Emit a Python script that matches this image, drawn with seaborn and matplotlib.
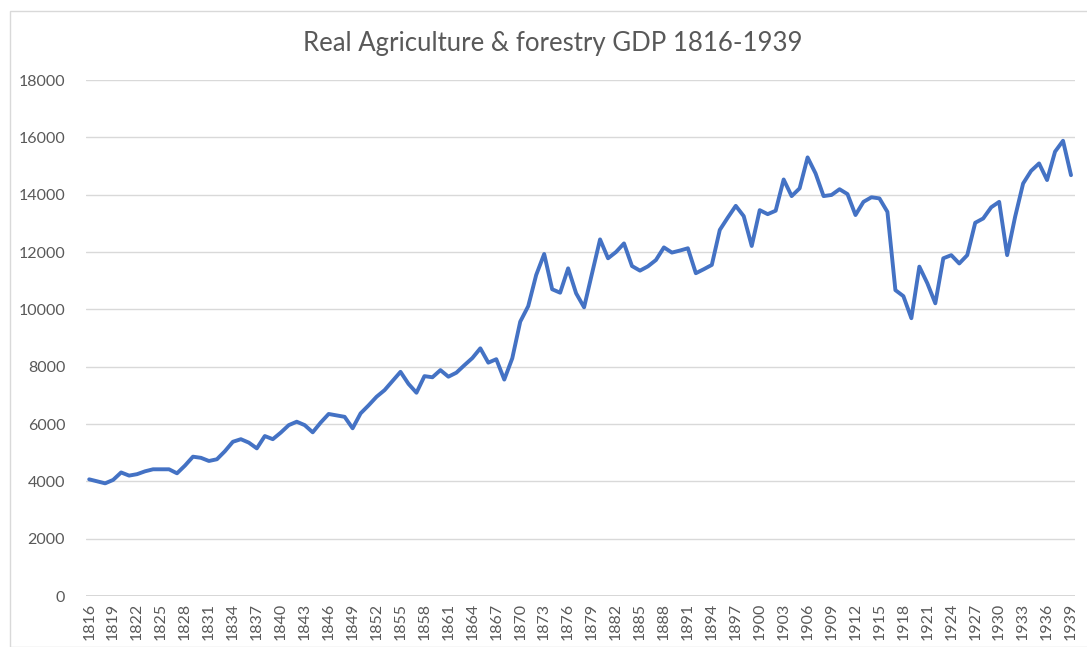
import pandas as pd
import matplotlib.pyplot as plt
import seaborn as sns
from matplotlib.patches import Rectangle

years = list(range(1816, 1940))
gdp = [
    4070, 4000, 3930, 4050, 4310, 4200, 4250, 4350, 4420, 4420,  # 1816-1825
    4420, 4280, 4550, 4860, 4820, 4710, 4770, 5050, 5380, 5470,  # 1826-1835
    5350, 5150, 5580, 5470, 5700, 5960, 6080, 5960, 5710, 6050,  # 1836-1845
    6350, 6300, 6250, 5850, 6370, 6650, 6950, 7180, 7500, 7820,  # 1846-1855
    7400, 7090, 7670, 7630, 7880, 7650, 7790, 8050, 8300, 8640,  # 1856-1865
    8140, 8260, 7550, 8290, 9570, 10110, 11200, 11930, 10700, 10580,  # 1866-1875
    11430, 10560, 10070, 11260, 12440, 11780, 12000, 12300, 11510, 11350,  # 1876-1885
    11500, 11720, 12160, 11980, 12050, 12130, 11260, 11400, 11550, 12770,  # 1886-1895
    13200, 13610, 13250, 12210, 13460, 13320, 13440, 14530, 13950, 14220,  # 1896-1905
    15300, 14740, 13950, 13990, 14190, 14020, 13290, 13750, 13910, 13870,  # 1906-1915
    13400, 10670, 10460, 9690, 11490, 10910, 10210, 11780, 11890, 11600,  # 1916-1925
    11890, 13020, 13170, 13560, 13750, 11890, 13230, 14390, 14830, 15090,  # 1926-1935
    14510, 15500, 15880, 14680,  # 1936-1939
]
tick_years = years[::3]

df = pd.DataFrame({"Year": years, "GDP": gdp})

sns.set_style("white")
plt.rcParams["font.family"] = ["Lato", "DejaVu Sans"]

fig = plt.figure(figsize=(10.87, 6.47), dpi=100)
ax = fig.add_axes([86 / 1087, 1 - 596 / 647, (1075 - 86) / 1087, (596 - 80) / 647])

sns.lineplot(data=df, x="Year", y="GDP", ax=ax, color="#4472C4", linewidth=2.8)

ax.set_xlim(1815.6, 1939.5)
ax.set_ylim(0, 18000)
ax.set_yticks(range(0, 18001, 2000))
ax.set_xticks(tick_years)
ax.set_xticklabels([str(y) for y in tick_years], rotation=90)
ax.tick_params(axis="both", length=0, labelsize=11.5, colors="#595959")
ax.tick_params(axis="y", pad=15)
ax.tick_params(axis="x", pad=5)
ax.yaxis.grid(True, color="#D9D9D9", linewidth=1)
ax.set_axisbelow(True)
for s in ax.spines.values():
    s.set_visible(False)
ax.axhline(0, color="#D0D0D0", linewidth=1.2, zorder=0)
ax.set_xlabel("")
ax.set_ylabel("")

fig.text(553 / 1087, 1 - 43 / 647, "Real Agriculture & forestry GDP 1816-1939",
         ha="center", va="center", fontsize=18.5, color="#595959")

fig.patches.append(Rectangle((10 / 1087, 0), 1.2, 1 - 11 / 647, transform=fig.transFigure,
                             fill=False, edgecolor="#D9D9D9", linewidth=1))

fig.savefig("out.png", dpi=100)
